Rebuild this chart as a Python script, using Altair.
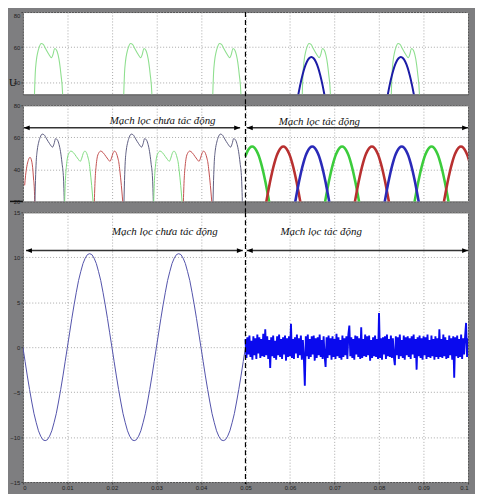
import altair as alt
import numpy as np
import pandas as pd

# ---------------- data ----------------
X_TICKS = [0, 0.01, 0.02, 0.03, 0.04, 0.05, 0.06, 0.07, 0.08, 0.09, 0.1]
P1_Y_TICKS = [40, 60, 80]
P2_Y_TICKS = [20, 40, 60, 80]
P3_Y_TICKS = [-15, -10, -5, 0, 5, 10, 15]

# double-hump shape of the large pulses (time offset in s, value)
BIG_DT = [0, 0.00016, 0.00033, 0.00056, 0.00089, 0.00122, 0.00167, 0.00212, 0.00267,
          0.00334, 0.00401, 0.00434, 0.00468, 0.00512, 0.00546, 0.00579, 0.00612, 0.00646, 0.00668]
BIG_V = [15, 33, 45, 52, 57, 60, 62, 61.5, 59, 56, 53.9, 56, 59.2, 58.2, 55.5, 51, 44, 34, 15]

# double-hump shape of the medium pulses
MED_DT = [0, 0.00022, 0.00045, 0.00067, 0.001, 0.00149, 0.002, 0.00267, 0.00312, 0.00356,
          0.0039, 0.00423, 0.00461, 0.00501, 0.00534, 0.00557, 0.00579, 0.00612, 0.00657]
MED_V = [15, 33, 42, 47, 50, 51.4, 50.5, 48, 46.3, 45, 47, 50, 51.4, 50, 47, 44, 39, 30, 15]

# first (partial) red pulse in panel 2
RED0_T = [0.0004, 0.0006, 0.0009, 0.0012, 0.0016, 0.0019, 0.0022, 0.0024, 0.0026, 0.0027]
RED0_V = [30, 36, 42, 45.5, 47.5, 46, 41, 34, 26, 15]

# sinusoidal hump (offset from peak in s, value)
HUMP_DT = [-0.0040, -0.0035, -0.0030, -0.0025, -0.0020, -0.0015, -0.0010, -0.0005, 0,
           0.0005, 0.0010, 0.0015, 0.0020, 0.0025, 0.0030, 0.0035, 0.0040]
HUMP_V = [17, 24.7, 31.9, 38.4, 43.9, 48.4, 51.6, 53.6, 54.3,
          53.6, 51.6, 48.4, 43.9, 38.4, 31.9, 24.7, 17]

P1_GREEN_START = [0.00245, 0.0225, 0.0425, 0.0626, 0.0826]
P1_BLUE_PEAK = [0.0648, 0.0849]

P2_BIG_START = [0.00267, 0.02267, 0.04267]
P2_GREEN_START = [0.00933, 0.02933]
P2_RED_START = [0.0160, 0.0360]
P2_GREEN_PEAK = [0.0515, 0.0717, 0.0918]
P2_RED_PEAK = [0.0585, 0.0784, 0.0984]
P2_BLUE_PEAK = [0.0650, 0.0851]

# one period of the unfiltered current (panel 3), step 0.0005 s
P3_PERIOD_V = [0, -1.6, -3.2, -4.7, -6.1, -7.4, -8.4, -9.3, -9.9, -10.3, -10.4, -10.3, -9.9,
               -9.3, -8.4, -7.4, -6.1, -4.7, -3.2, -1.6, 0, 1.6, 3.2, 4.7, 6.1, 7.4, 8.4, 9.3,
               9.9, 10.3, 10.4, 10.3, 9.9, 9.3, 8.4, 7.4, 6.1, 4.7, 3.2, 1.6, 0]
P3_PERIOD_START = [0, 0.02, 0.04]

# filtered current (panel 3, 0.05 .. 0.1 s)
NOISE_V = [
    0.9, -1.2, 1.1, -0.8, 1.3, -1.1, 0.7, -1.4, 1.2, -0.9, 1.0, -1.3, 1.4, -0.7, 1.1,
    -1.2, 0.9, -1.0, 1.5, -1.1, 2.0, -0.9, 1.2, -1.3, 0.8, -2.3, 1.1, -1.0, 1.3, -1.2,
    0.7, -1.4, 1.2, -0.9, 1.4, -1.1, 0.9, -1.3, 1.1, -0.8, 1.3, -1.5, 1.0, -1.1, 1.2,
    -1.0, 2.6, -1.2, 0.9, -1.3, 1.1, -0.7, 1.4, -1.2, 1.0, -0.9, 1.3, -1.4, 0.8, -1.1,
    -4.3, 1.2, -1.0, 1.4, -1.3, 0.9, -1.1, 1.2, -0.8, 1.3, -1.5, 1.0, -1.2, 1.1, -0.9,
    1.4, -1.1, 0.8, -1.3, 1.2, -1.0, -2.2, 1.1, -1.2, 1.3, -0.9, 1.0, -1.4, 1.2, -1.1,
    0.9, -1.3, 1.5, -1.0, 1.1, -1.2, 0.8, -1.4, 1.3, -1.1, 1.0, -0.9, 1.2, -1.3, 1.4,
    2.4, -1.0, 1.1, -1.2, 0.9, -1.4, 1.3, -0.8, 1.2, -1.1, 1.0, -1.3, 2.2, -1.2, 0.9,
    -1.0, 1.4, -1.1, 1.2, -0.9, 1.3, -1.5, 0.8, -1.2, 1.1, -1.0, 1.3, -1.1, 0.9, -1.3,
    3.8, -1.2, 1.0, -1.4, 1.1, -0.8, 1.2, -1.3, 1.4, -1.0, 0.9, -1.1, 1.3, -1.2, 1.0,
    -1.1, -2.0, 1.2, -0.9, 1.1, -1.3, 1.4, -1.0, 0.8, -1.2, 1.3, -1.4, 1.1, -0.9, 1.2,
    -1.1, 1.0, -1.3, 1.2, -0.8, 1.4, -1.2, 0.9, -2.5, 1.1, -1.0, 1.3, -1.2, 1.0, -1.4,
    1.2, -0.9, 1.1, -1.3, 1.4, -1.1, 0.8, -1.2, 1.3, -1.0, 0.9, -1.4, 1.2, -1.1, 1.0,
    -1.3, 2.0, -1.1, 0.9, -1.2, 1.4, -1.0, 1.1, -1.3, 0.8, -1.2, 1.3, -0.9, 1.0, -1.4,
    1.2, -3.4, 1.1, -1.0, 1.3, -1.2, 0.9, -1.1, 1.4, -1.3, 1.0, -0.8, 1.2, 2.7, -1.1,
    1.0,
]

TEXT_OFF = "Mạch lọc chưa tác động"
TEXT_ON = "Mạch lọc tác động"
P2_TEXT = {"t": [0.0314, 0.0666], "v": [70.2, 69.6], "label": [TEXT_OFF, TEXT_ON]}
P2_ARROWS = {"t": [0.0002, 0.0503], "t2": [0.0488, 0.1], "v": [65.9, 65.9]}
P3_TEXT = {"t": [0.0319, 0.0670], "v": [12.8, 12.8], "label": [TEXT_OFF, TEXT_ON]}
P3_ARROWS = {"t": [0.0007, 0.0503], "t2": [0.0494, 0.1], "v": [10.75, 10.75]}

# ---------------- helpers ----------------
W = 449
H1, H2, H3 = 83, 97, 272
GAP = 11


def pulses(starts, dts, vals, lo=None, hi=None):
    rows = []
    for k, s in enumerate(starts):
        for d, v in zip(dts, vals):
            t = s + d
            if lo is not None and t < lo - 1e-9:
                continue
            if hi is not None and t > hi + 1e-9:
                continue
            rows.append({"t": t, "v": v, "seg": k})
    return pd.DataFrame(rows)


def xenc(show):
    return alt.X("t:Q", scale=alt.Scale(domain=[0, 0.1], nice=False, zero=False),
                 axis=alt.Axis(values=X_TICKS, format="~g", labels=show, ticks=show,
                               grid=True, title=None))


def yenc(domain, ticks, flush=False):
    return alt.Y("v:Q", scale=alt.Scale(domain=domain, nice=False, zero=False),
                 axis=alt.Axis(values=ticks, format="d", grid=True, title=None,
                               labelFlush=flush))


def line(df, color, width, domain, ticks, show_x, flush=False):
    return alt.Chart(df).mark_line(color=color, strokeWidth=width, clip=True,
                                   interpolate="monotone").encode(
        x=xenc(show_x), y=yenc(domain, ticks, flush), detail="seg:N")


def divider(h_from, h_to, show_x):
    return alt.Chart(pd.DataFrame({"t": [0.05]})).mark_rule(
        color="black", strokeDash=[5, 3], strokeWidth=1.2, clip=False).encode(
        x=xenc(show_x), y=alt.value(h_from), y2=alt.value(h_to))


LEFT_HEAD = "M0,0L2,-0.8L2,0.8Z"
RIGHT_HEAD = "M0,0L-2,-0.8L-2,0.8Z"


def annotations(text, arrows, domain, ticks, show_x):
    tdf = pd.DataFrame(text)
    adf = pd.DataFrame(arrows)
    heads = pd.DataFrame({
        "t": list(adf["t"]) + list(adf["t2"]),
        "v": list(adf["v"]) * 2,
        "dir": ["L"] * len(adf) + ["R"] * len(adf),
    })
    txt = alt.Chart(tdf).mark_text(font="Liberation Serif", fontStyle="italic", fontSize=11,
                                   color="#111", align="center", baseline="middle").encode(
        x=xenc(show_x), y=yenc(domain, ticks), text="label:N")
    shaft = alt.Chart(adf).mark_rule(color="#333", strokeWidth=1.5).encode(
        x=xenc(show_x), x2="t2:Q", y=yenc(domain, ticks))
    hd = alt.Chart(heads).mark_point(filled=True, color="black", size=36, opacity=1,
                                     strokeWidth=0).encode(
        x=xenc(show_x), y=yenc(domain, ticks),
        shape=alt.Shape("dir:N", scale=alt.Scale(domain=["L", "R"],
                                                  range=[LEFT_HEAD, RIGHT_HEAD]), legend=None))
    return [shaft, hd, txt]


# ---------------- panel 1 ----------------
D1 = [33, 80]
p1_green = pulses(P1_GREEN_START, BIG_DT, BIG_V)
p1_blue = pulses(P1_BLUE_PEAK, HUMP_DT, HUMP_V)
u_label = alt.Chart(pd.DataFrame({"s": ["U"]})).mark_text(
    font="Liberation Serif", fontSize=11, color="#111", align="center", baseline="middle",
    clip=False).encode(x=alt.value(-10), y=alt.value(72), text="s:N")
p1 = alt.layer(
    line(p1_green, "#8fdf8f", 1.1, D1, P1_Y_TICKS, False, True),
    line(p1_blue, "#1c1ca6", 2.0, D1, P1_Y_TICKS, False, True),
    divider(0, H1 + GAP, False),
    u_label,
).properties(width=W, height=H1)

# ---------------- panel 2 ----------------
D2 = [20, 80]
red0 = pd.DataFrame({"t": RED0_T, "v": RED0_V, "seg": 0})
p2_big = pulses(P2_BIG_START, BIG_DT, BIG_V)
p2_green = pulses(P2_GREEN_START, MED_DT, MED_V)
p2_red = pulses(P2_RED_START, MED_DT, MED_V)
p2_g2 = pulses(P2_GREEN_PEAK, HUMP_DT, HUMP_V, lo=0.05)
p2_r2 = pulses(P2_RED_PEAK, HUMP_DT, HUMP_V, lo=0.05)
p2_b2 = pulses(P2_BLUE_PEAK, HUMP_DT, HUMP_V, lo=0.05)
sep_line = alt.Chart(pd.DataFrame({"t": [0.0]})).mark_rule(
    color="#111", strokeWidth=1.5, clip=False).encode(
    x=alt.value(-13), x2=alt.value(0), y=alt.value(H2))
p2 = alt.layer(
    line(red0, "#c25050", 1.0, D2, P2_Y_TICKS, False),
    line(p2_big, "#5c5c80", 1.0, D2, P2_Y_TICKS, False),
    line(p2_green, "#7fdc7f", 1.0, D2, P2_Y_TICKS, False),
    line(p2_red, "#c25050", 1.0, D2, P2_Y_TICKS, False),
    line(p2_g2, "#3ccc3c", 2.6, D2, P2_Y_TICKS, False),
    line(p2_r2, "#b83030", 2.6, D2, P2_Y_TICKS, False),
    line(p2_b2, "#2a2ab8", 2.6, D2, P2_Y_TICKS, False),
    divider(0, H2 + GAP, False),
    sep_line,
    *annotations(P2_TEXT, P2_ARROWS, D2, P2_Y_TICKS, False),
).properties(width=W, height=H2)

# ---------------- panel 3 ----------------
D3 = [-15, 15]
rows = []
for k, s in enumerate(P3_PERIOD_START):
    for i, v in enumerate(P3_PERIOD_V):
        t = s + i * 0.0005
        if t <= 0.05 + 1e-9:
            rows.append({"t": t, "v": v, "seg": 0})
p3_sine = pd.DataFrame(rows).drop_duplicates("t")
p3_noise = pd.DataFrame({"t": np.linspace(0.05, 0.1, len(NOISE_V)), "v": NOISE_V, "seg": 0})
p3 = alt.layer(
    alt.Chart(p3_sine).mark_line(color="#5252aa", strokeWidth=1.0, clip=True).encode(
        x=xenc(True), y=yenc(D3, P3_Y_TICKS), detail="seg:N"),
    alt.Chart(p3_noise).mark_line(color="#0a0aee", strokeWidth=1.9, clip=True).encode(
        x=xenc(True), y=yenc(D3, P3_Y_TICKS), detail="seg:N"),
    divider(0, H3 + 2, True),
    *annotations(P3_TEXT, P3_ARROWS, D3, P3_Y_TICKS, True),
).properties(width=W, height=H3)

chart = alt.vconcat(p1, p2, p3, spacing=GAP, bounds="flush").properties(
    padding={"left": 0, "top": 0, "right": 5, "bottom": 0}
).configure(background="#7e7e80").configure_view(
    fill="white", stroke="#505050", strokeWidth=1
).configure_axis(
    labelFont="Liberation Sans", labelFontSize=6, labelColor="#222", labelPadding=1,
    tickSize=2, tickColor="#444", domain=False, gridColor="#a8a8a8", gridDash=[1, 2],
    gridWidth=1
)

chart.save("out.html", embed_options={"renderer": "svg", "actions": False})
